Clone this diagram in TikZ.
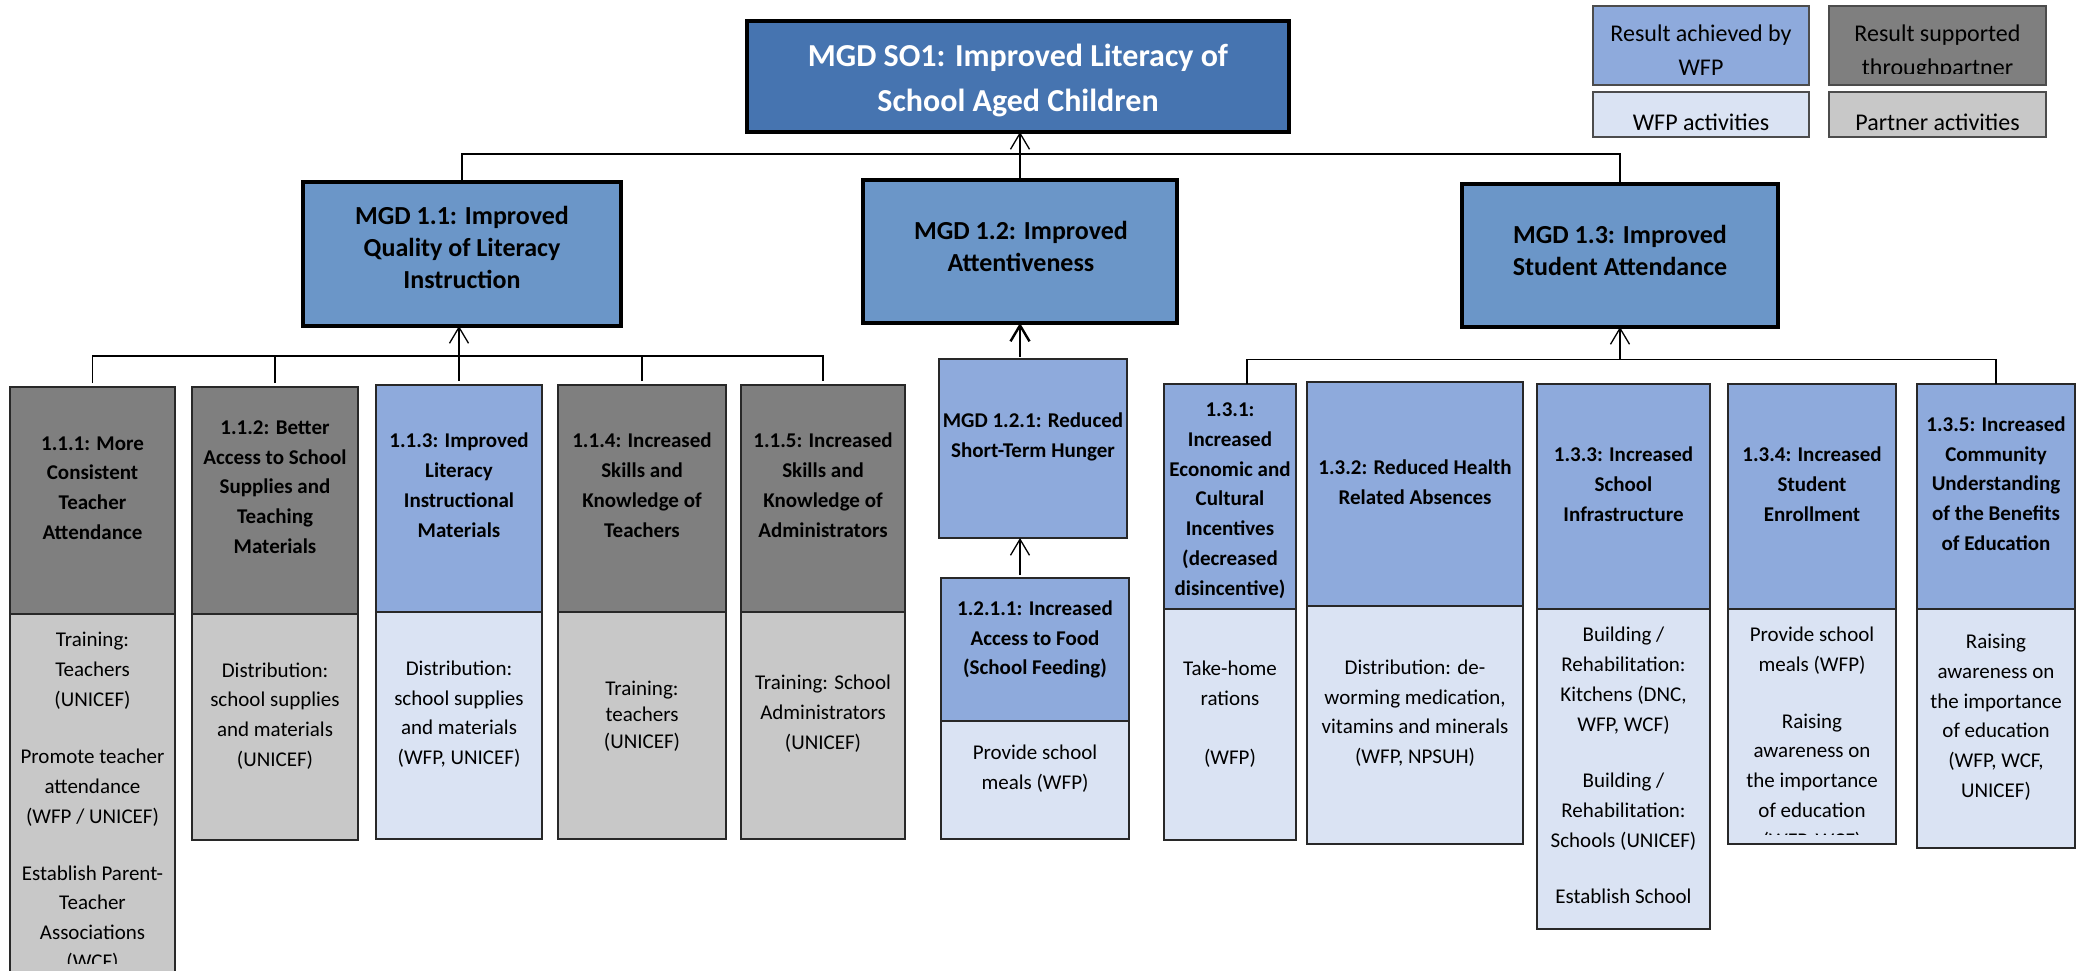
\documentclass[tikz,border=0pt]{standalone}
\usepackage{fontspec}
\setmainfont{Carlito}
\usetikzlibrary{arrows.meta}
\definecolor{so1blue}{RGB}{70,116,176}
\definecolor{mgdblue}{RGB}{107,150,200}
\definecolor{resblue}{RGB}{142,170,220}
\definecolor{actblue}{RGB}{218,227,243}
\definecolor{resgray}{RGB}{127,127,127}
\definecolor{actgray}{RGB}{200,200,200}
\definecolor{edgedark}{RGB}{40,40,40}
\newcommand{\mkbox}[6]{\node[#1, minimum width={#5-#3}, minimum height={#6-#4}] (#2) at (#3,#4) {};}
\begin{document}
\begin{tikzpicture}[x=1pt,y=-1pt,
  box/.style={draw=edgedark, line width=1.6pt, inner sep=0pt, outer sep=0pt, anchor=north west},
  topbox/.style={box, draw=black, line width=4pt},
  legbox/.style={box, draw=black!70, line width=2pt},
  rgray/.style={box, fill=resgray},
  agray/.style={box, fill=actgray},
  rblue/.style={box, fill=resblue},
  ablue/.style={box, fill=actblue},
  conn/.style={draw=black, line width=1.3pt},
  arr/.style={conn, -{Straight Barb[length=16pt,width=19pt]}},
  arrthick/.style={arr, line width=2.4pt},
  txt/.style={font=\fontsize{21}{29.8}\selectfont, align=center, inner sep=0pt, yshift=-5.5pt, execute at begin node=\strut, execute at end node=\strut},
  txtb/.style={txt, font=\fontsize{21}{29.8}\selectfont\bfseries},
  mgdtxt/.style={txt, font=\fontsize{26}{32}\selectfont\bfseries},
  so1txt/.style={txt, font=\fontsize{32}{45}\selectfont\bfseries, text=white, yshift=-2pt},
  legtxt/.style={txt, font=\fontsize{24}{34}\selectfont}
]
\useasboundingbox (0,0) rectangle (2085,971);
\fill[white] (0,0) rectangle (2085,971);
\clip (0,0) rectangle (2085,971);

% ---------- top level ----------
\mkbox{topbox, fill=so1blue}{so1}{747}{21}{1289}{132}
\mkbox{topbox, fill=mgdblue}{m11}{303}{182}{621}{326}
\mkbox{topbox, fill=mgdblue}{m12}{863}{180}{1177}{323}
\mkbox{topbox, fill=mgdblue}{m13}{1462}{184}{1778}{327}
\node[so1txt] (so1t) at (1018,77) {MGD SO1: Improved Literacy of\\School Aged Children};
\node[mgdtxt] (m11t) at (462,247) {MGD 1.1: Improved\\Quality of Literacy\\Instruction};
\node[mgdtxt] (m12t) at (1021,246) {MGD 1.2: Improved\\Attentiveness};
\node[mgdtxt] (m13t) at (1620,249.5) {MGD 1.3: Improved\\Student Attendance};

% ---------- legend ----------
\mkbox{legbox, fill=resblue}{leg1}{1593}{6}{1809}{85}
\mkbox{legbox, fill=resgray}{leg2}{1829}{6}{2046}{85}
\mkbox{legbox, fill=actblue}{leg3}{1593}{92}{1809}{137}
\mkbox{legbox, fill=actgray}{leg4}{1829}{92}{2046}{137}
\node[legtxt] (leg1t) at (1701,50) {Result achieved by\\WFP};
\begin{scope}
\clip (1829,6) rectangle (2046,73.3);
\node[legtxt] (leg2t) at (1937.5,50) {Result supported\\throughpartner};
\end{scope}
\node[legtxt] (leg3t) at (1701,118) {WFP activities};
\node[legtxt] (leg4t) at (1937.5,118) {Partner activities};

% ---------- group 1.1 ----------
\mkbox{rgray}{b111}{10}{387}{175}{614}
\mkbox{agray}{b111a}{10}{614}{175}{990}
\mkbox{rgray}{b112}{192}{387}{358}{614}
\mkbox{agray}{b112a}{192}{614}{358}{840}
\mkbox{rblue}{b113}{376}{385}{542}{612}
\mkbox{ablue}{b113a}{376}{612}{542}{839}
\mkbox{rgray}{b114}{558}{385}{726}{612}
\mkbox{agray}{b114a}{558}{612}{726}{839}
\mkbox{rgray}{b115}{741}{385}{905}{612}
\mkbox{agray}{b115a}{741}{612}{905}{839}

\node[txtb] (b111t) at (92.5,487) {1.1.1: More\\Consistent\\Teacher\\Attendance};
\node[txtb] (b112t) at (275,486) {1.1.2: Better\\Access to School\\Supplies and\\Teaching\\Materials};
\node[txtb] (b113t) at (459,484) {1.1.3: Improved\\Literacy\\Instructional\\Materials};
\node[txtb] (b114t) at (642,484) {1.1.4: Increased\\Skills and\\Knowledge of\\Teachers};
\node[txtb] (b115t) at (823,484) {1.1.5: Increased\\Skills and\\Knowledge of\\Administrators};

\node[txt] (b111p1) at (92.5,668.3) {Training:\\Teachers\\(UNICEF)};
\node[txt] (b111p2) at (92.5,785) {Promote teacher\\attendance\\(WFP / UNICEF)};
\begin{scope}
\clip (10,614) rectangle (175,963);
\node[txt, font=\fontsize{21}{29.2}\selectfont] (b111p3) at (92.5,916) {Establish Parent-\\Teacher\\Associations\\(WCF)};
\end{scope}
\node[txt] (b112p) at (275,713.5) {Distribution:\\school supplies\\and materials\\(UNICEF)};
\node[txt] (b113p) at (459,711.7) {Distribution:\\school supplies\\and materials\\(WFP, UNICEF)};
\node[txt, font=\fontsize{21}{26.3}\selectfont] (b114p) at (642,713) {Training:\\teachers\\(UNICEF)};
\node[txt] (b115p) at (823,711) {Training: School\\Administrators\\(UNICEF)};

% ---------- group 1.2 ----------
\mkbox{rblue}{b121}{939}{359}{1127}{538}
\mkbox{rblue}{b1211}{941}{578}{1129}{721}
\mkbox{ablue}{b1211a}{941}{721}{1129}{839}
\node[txtb] (b121t) at (1033,434) {MGD 1.2.1: Reduced\\Short-Term Hunger};
\node[txtb] (b1211t) at (1035,636.6) {1.2.1.1: Increased\\Access to Food\\(School Feeding)};
\node[txt] (b1211p) at (1035,766) {Provide school\\meals (WFP)};

% ---------- group 1.3 ----------
\mkbox{rblue}{b131}{1164}{384}{1296}{609}
\mkbox{ablue}{b131a}{1164}{609}{1296}{840}
\mkbox{rblue}{b132}{1307}{382}{1523}{606}
\mkbox{ablue}{b132a}{1307}{606}{1523}{844}
\mkbox{rblue}{b133}{1537}{384}{1710}{609}
\mkbox{ablue}{b133a}{1537}{609}{1710}{929}
\mkbox{rblue}{b134}{1728}{384}{1896}{609}
\mkbox{ablue}{b134a}{1728}{609}{1896}{844}
\mkbox{rblue}{b135}{1917}{384}{2075}{609}
\mkbox{ablue}{b135a}{1917}{609}{2075}{848}

\node[txtb] (b131t) at (1230,498) {1.3.1:\\Increased\\Economic and\\Cultural\\Incentives\\(decreased\\disincentive)};
\node[txtb] (b132t) at (1415,481) {1.3.2: Reduced Health\\Related Absences};
\node[txtb] (b133t) at (1623.5,483) {1.3.3: Increased\\School\\Infrastructure};
\node[txtb] (b134t) at (1812,483) {1.3.4: Increased\\Student\\Enrollment};
\node[txtb] (b135t) at (1996,482.5) {1.3.5: Increased\\Community\\Understanding\\of the Benefits\\of Education};

\node[txt] (b131p1) at (1230,682.5) {Take-home\\rations};
\node[txt] (b131p2) at (1230,753.3) {(WFP)};
\node[txt] (b132p) at (1415,710.7) {Distribution: de-\\worming medication,\\vitamins and minerals\\(WFP, NPSUH)};
\node[txt] (b133p1) at (1623.5,678) {Building /\\Rehabilitation:\\Kitchens (DNC,\\WFP, WCF)};
\node[txt] (b133p2) at (1623.5,809.2) {Building /\\Rehabilitation:\\Schools (UNICEF)};
\begin{scope}
\clip (1537,609) rectangle (1710,918);
\node[txt] (b133p3) at (1623.5,910) {Establish School\\Management};
\end{scope}
\node[txt] (b134p1) at (1812,648.4) {Provide school\\meals (WFP)};
\begin{scope}
\clip (1728,609) rectangle (1896,834);
\node[txt] (b134p2) at (1812,779.5) {Raising\\awareness on\\the importance\\of education\\(WFP, WCF)};
\end{scope}
\node[txt] (b135p) at (1996,714.8) {Raising\\awareness on\\the importance\\of education\\(WFP, WCF,\\UNICEF)};

% ---------- connectors ----------
\coordinate (bus0) at (0,154);
\coordinate (bus1) at (0,356);
\coordinate (bus2) at (0,359.3);
\coordinate (c131) at ([xshift=17pt]b131.north);

\draw[conn] (m11.north) -- (m11.north |- bus0) -- (m13.north |- bus0) -- (m13.north);
\draw[arr] (m12.north) -- (m12.north |- so1.south);

\draw[conn] ([yshift=4pt]b111.north) -- (b111.north |- bus1) -- (b115.north |- bus1) -- ([yshift=4pt]b115.north);
\draw[conn] ([yshift=4pt]b112.north) -- (b112.north |- bus1);
\draw[conn] ([yshift=4pt]b114.north) -- (b114.north |- bus1);
\draw[arr] ([yshift=4pt]b113.north) -- (b113.north |- m11.south);

\draw[arrthick, shorten <=2pt] (m12.south |- b121.north) -- (m12.south);
\draw[arr, shorten <=3pt] (m12.south |- b1211.north) -- (m12.south |- b121.south);

\draw[conn] (c131) -- (c131 |- bus2) -- (b135.north |- bus2) -- (b135.north);
\draw[arr] (m13.south |- bus2) -- (m13.south);
\end{tikzpicture}
\end{document}
